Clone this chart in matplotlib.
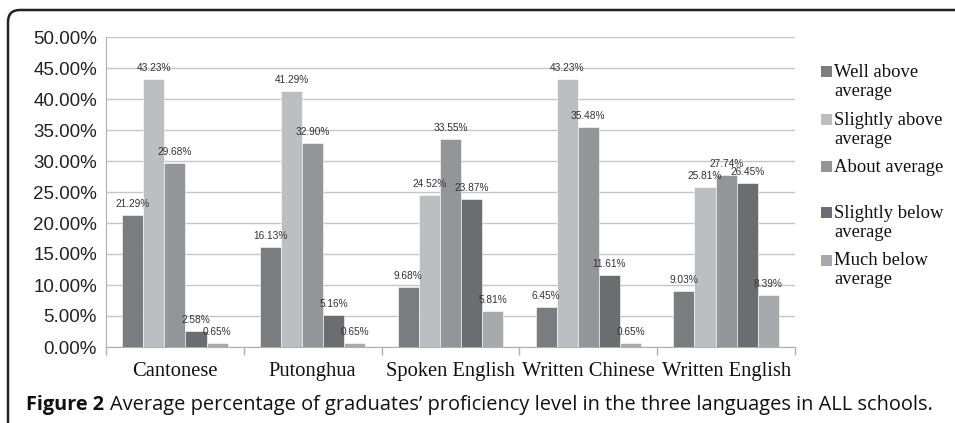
import matplotlib
matplotlib.use("Agg")
import matplotlib.pyplot as plt
import numpy as np
from matplotlib.patches import Rectangle
from matplotlib.path import Path
from matplotlib.patches import PathPatch

categories = ["Cantonese", "Putonghua", "Spoken English", "Written Chinese", "Written English"]
series_names = ["Well above\naverage", "Slightly above\naverage", "About average",
                "Slightly below\naverage", "Much below\naverage"]
well_above = [21.29, 16.13, 9.68, 6.45, 9.03]
slightly_above = [43.23, 41.29, 24.52, 43.23, 25.81]
about_average = [29.68, 32.90, 33.55, 35.48, 27.74]
slightly_below = [2.58, 5.16, 23.87, 11.61, 26.45]
much_below = [0.65, 0.65, 5.81, 0.65, 8.39]
yticks = [0, 5, 10, 15, 20, 25, 30, 35, 40, 45, 50]

series = [well_above, slightly_above, about_average, slightly_below, much_below]
colors = ["#7b7c80", "#bdbec1", "#949599", "#6c6d71", "#a8a9ac"]

W, H = 955, 423
fig = plt.figure(figsize=(W / 100, H / 100), dpi=100)
ax = fig.add_axes([106 / W, 1 - 347 / H, (795 - 106) / W, (347 - 37) / H])

x = np.arange(len(categories))
bw = 0.153
for i, (vals, c) in enumerate(zip(series, colors)):
    pos = x + (i - 2) * bw
    ax.bar(pos, vals, width=bw, color=c, edgecolor="white", linewidth=0.4, zorder=3)
    for p, v in zip(pos, vals):
        ax.text(p, v + 1.0, f"{v:.2f}%", ha="center", va="bottom", fontsize=7.3,
                family="Liberation Sans", color="#333333", zorder=4)

ax.set_xlim(-0.5, len(categories) - 0.5)
ax.set_ylim(0, 50)
ax.set_yticks(yticks)
ax.set_yticklabels([f"{t:.2f}%" for t in yticks], family="Liberation Sans", fontsize=13.5,
                   color="#222222")
ax.yaxis.grid(True, color="#c6c6c6", linewidth=1.0, zorder=0)
ax.set_axisbelow(True)
ax.tick_params(axis="y", length=0, pad=6.5)
ax.set_xticks(np.arange(-0.5, len(categories), 1.0))
ax.set_xticklabels([])
ax.tick_params(axis="x", length=6, color="#b0b0b0", width=1)
for i, c in enumerate(categories):
    ax.text(i, -3.9, c, ha="center", va="center", family="Liberation Serif",
            fontsize=14.8, color="#111111")
for s in ["top", "right"]:
    ax.spines[s].set_visible(False)
ax.spines["left"].set_color("#b0b0b0")
ax.spines["bottom"].set_color("#b0b0b0")

# legend
leg_rows = [72, 120, 167, 213, 260]
for name, c, yy in zip(series_names, colors, leg_rows):
    fig.patches.append(Rectangle((821 / W, 1 - (yy + 5.5) / H), 11 / W, 11 / H,
                                 transform=fig.transFigure, facecolor=c, edgecolor="none"))
    fig.text(834 / W, 1 - (yy - 8) / H, name, ha="left", va="top", family="Liberation Serif",
             fontsize=13.4, color="#111111", linespacing=1.12)

# caption
fig.text(26 / W, 1 - 405 / H, "Figure 2", ha="left", va="center", fontsize=14.3,
         family="Open Sans", weight="bold", color="#111111")
fig.text(110 / W, 1 - 405 / H,
         "Average percentage of graduates\u2019 proficiency level in the three languages in ALL schools.",
         ha="left", va="center", fontsize=14.4, family="Open Sans", color="#111111")

# border
r = 12
verts = [(8, H + 5), (8, 10 + r), (8, 10), (8 + r, 10), (W + 5, 10)]
codes = [Path.MOVETO, Path.LINETO, Path.CURVE3, Path.CURVE3, Path.LINETO]
verts = [(vx / W, 1 - vy / H) for vx, vy in verts]
fig.patches.append(PathPatch(Path(verts, codes), transform=fig.transFigure, fill=False,
                             edgecolor="#222222", linewidth=1.8))

fig.savefig("out.png", dpi=100)
